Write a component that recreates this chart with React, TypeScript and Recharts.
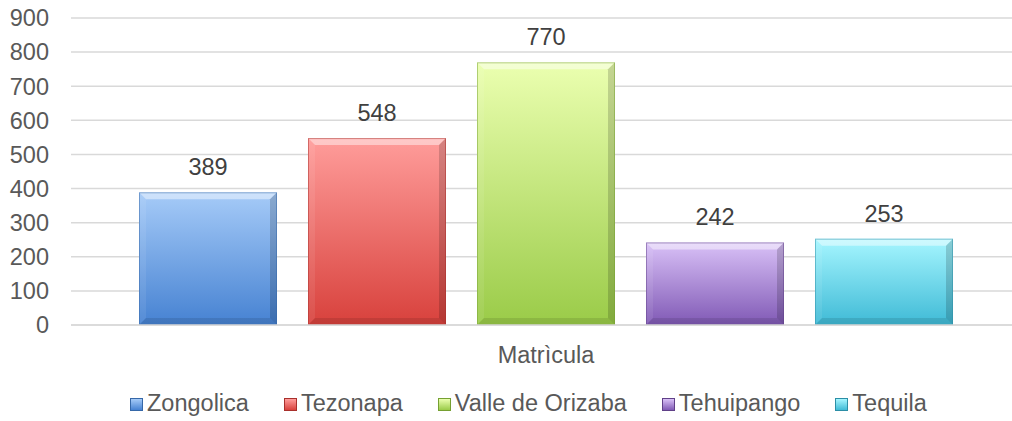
import React from "react";
import { BarChart, Bar, XAxis, YAxis, CartesianGrid, Legend, LabelList } from "recharts";

const categories = ["Matrìcula"];
const seriesNames = ["Zongolica", "Tezonapa", "Valle de Orizaba", "Tehuipango", "Tequila"];
const seriesValues = [389, 548, 770, 242, 253];
const yTicks = [0, 100, 200, 300, 400, 500, 600, 700, 800, 900];

const seriesColors = [
  { top: "#a6cbf8", bottom: "#4682d2", edge: "#3668a8" },
  { top: "#ff9d9b", bottom: "#d8413c", edge: "#a8302c" },
  { top: "#ebffb0", bottom: "#9acb48", edge: "#76a032" },
  { top: "#d9c1f7", bottom: "#8059b5", edge: "#604088" },
  { top: "#a6f6ff", bottom: "#3fbad6", edge: "#2c8ea6" },
];

const data = categories.map((c) => {
  const row: Record<string, string | number> = { name: c };
  seriesNames.forEach((s, i) => {
    row[s] = seriesValues[i];
  });
  return row;
});

const FONT = "'Liberation Sans', Arial, sans-serif";
const FS = 23.5;

function BevelBar(props: any) {
  const { x, y, width, height, idx } = props;
  if (!width || !height || height <= 0) return null;
  const c = seriesColors[idx];
  const b = Math.min(7, height / 2, width / 2);
  return (
    <g>
      <rect x={x} y={y} width={width} height={height} fill={`url(#grad${idx})`} />
      <polygon
        points={`${x},${y} ${x + width},${y} ${x + width - b},${y + b} ${x + b},${y + b}`}
        fill="#ffffff"
        fillOpacity={0.45}
      />
      <polygon
        points={`${x},${y} ${x + b},${y + b} ${x + b},${y + height - b} ${x},${y + height}`}
        fill="#ffffff"
        fillOpacity={0.08}
      />
      <polygon
        points={`${x + width},${y} ${x + width},${y + height} ${x + width - b},${y + height - b} ${x + width - b},${y + b}`}
        fill="#000000"
        fillOpacity={0.16}
      />
      <polygon
        points={`${x},${y + height} ${x + width},${y + height} ${x + width - b},${y + height - b} ${x + b},${y + height - b}`}
        fill="#000000"
        fillOpacity={0.1}
      />
      <rect x={x + 0.5} y={y + 0.5} width={width - 1} height={height - 1} fill="none" stroke={c.edge} strokeOpacity={0.5} strokeWidth={1} />
    </g>
  );
}

function LegendContent() {
  return (
    <div
      style={{
        height: 40,
        display: "flex",
        alignItems: "flex-end",
        boxSizing: "border-box",
        paddingBottom: 6,
        paddingLeft: 130,
        fontFamily: FONT,
        fontSize: FS,
        lineHeight: "23px",
        color: "#595959",
        whiteSpace: "nowrap",
      }}
    >
      {seriesNames.map((s, i) => (
        <div key={s} style={{ display: "flex", alignItems: "center", marginRight: 35 }}>
          <div
            style={{
              width: 13,
              height: 13,
              marginRight: 4,
              marginTop: 2,
              boxSizing: "border-box",
              border: `1px solid ${seriesColors[i].edge}`,
              background: `linear-gradient(${seriesColors[i].top}, ${seriesColors[i].bottom})`,
            }}
          />
          <span>{s}</span>
        </div>
      ))}
    </div>
  );
}

export default function App() {
  return (
    <div style={{ position: "absolute", left: 0, top: 0, width: 1012, height: 421, overflow: "hidden", background: "#ffffff" }}>
      <BarChart
        width={1021}
        height={421}
        data={data}
        margin={{ top: 18, right: 0, left: 0, bottom: 0 }}
        barGap={31}
      >
        <defs>
          {seriesColors.map((c, i) => (
            <linearGradient key={i} id={`grad${i}`} x1="0" y1="0" x2="0" y2="1">
              <stop offset="0%" stopColor={c.top} />
              <stop offset="100%" stopColor={c.bottom} />
            </linearGradient>
          ))}
        </defs>
        <CartesianGrid vertical={false} stroke="#d9d9d9" strokeWidth={1.5} />
        <XAxis
          dataKey="name"
          height={56}
          tickSize={0}
          tickMargin={21}
          axisLine={{ stroke: "#d9d9d9", strokeWidth: 1.5 }}
          tickLine={false}
          tick={{ fontFamily: FONT, fontSize: FS, fill: "#595959" }}
        />
        <YAxis
          width={71}
          domain={[0, 900]}
          ticks={yTicks}
          interval={0}
          tickSize={0}
          tickMargin={22}
          axisLine={false}
          tickLine={false}
          tick={{ fontFamily: FONT, fontSize: FS, fill: "#595959" }}
        />
        <Legend
          verticalAlign="bottom"
          content={<LegendContent />}
          wrapperStyle={{ left: 0, width: 1012, height: 40 }}
        />
        {seriesNames.map((s, i) => (
          <Bar
            key={s}
            dataKey={s}
            barSize={138}
            isAnimationActive={false}
            fill={seriesColors[i].bottom}
            shape={(p: any) => <BevelBar {...p} idx={i} />}
          >
            <LabelList
              dataKey={s}
              position="top"
              offset={17}
              style={{ fontFamily: FONT, fontSize: FS, fill: "#404040" }}
            />
          </Bar>
        ))}
      </BarChart>
    </div>
  );
}
